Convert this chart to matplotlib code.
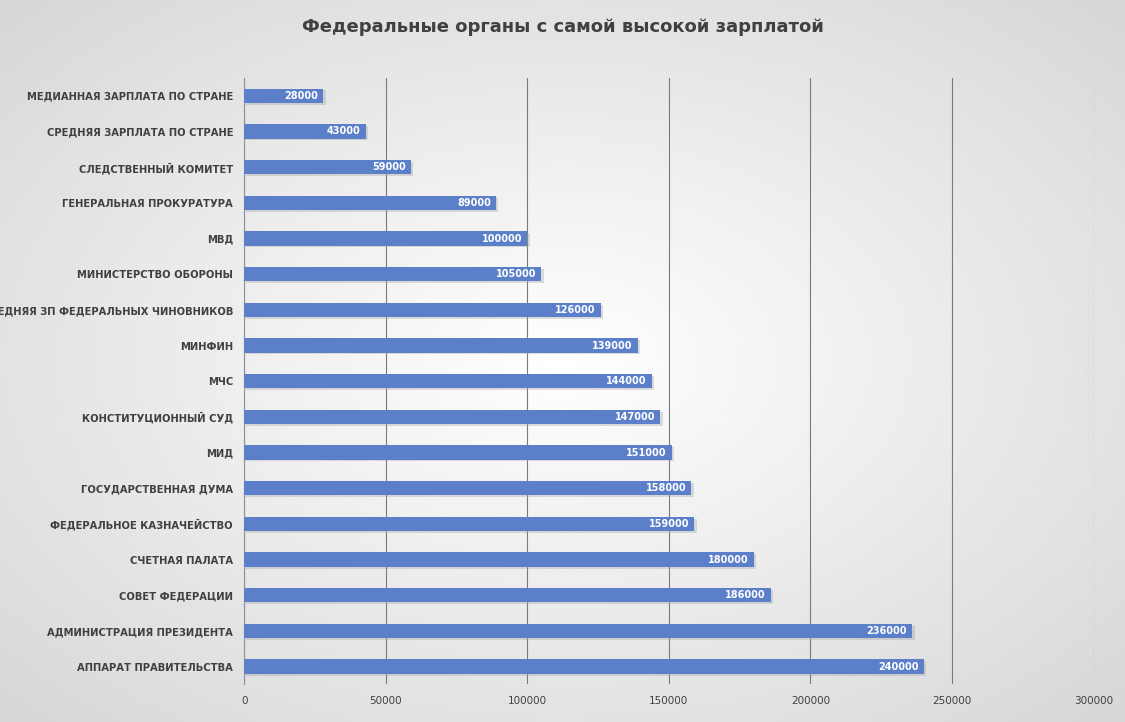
import numpy as np
import matplotlib.pyplot as plt

categories = ['МЕДИАННАЯ ЗАРПЛАТА ПО СТРАНЕ', 'СРЕДНЯЯ ЗАРПЛАТА ПО СТРАНЕ', 'СЛЕДСТВЕННЫЙ КОМИТЕТ',
              'ГЕНЕРАЛЬНАЯ ПРОКУРАТУРА', 'МВД', 'МИНИСТЕРСТВО ОБОРОНЫ',
              'СРЕДНЯЯ ЗП ФЕДЕРАЛЬНЫХ ЧИНОВНИКОВ', 'МИНФИН', 'МЧС', 'КОНСТИТУЦИОННЫЙ СУД',
              'МИД', 'ГОСУДАРСТВЕННАЯ ДУМА', 'ФЕДЕРАЛЬНОЕ КАЗНАЧЕЙСТВО', 'СЧЕТНАЯ ПАЛАТА',
              'СОВЕТ ФЕДЕРАЦИИ', 'АДМИНИСТРАЦИЯ ПРЕЗИДЕНТА', 'АППАРАТ ПРАВИТЕЛЬСТВА']
salaries = [28000, 43000, 59000, 89000, 100000, 105000, 126000, 139000, 144000, 147000,
            151000, 158000, 159000, 180000, 186000, 236000, 240000]
xticks = [0, 50000, 100000, 150000, 200000, 250000, 300000]

fig = plt.figure(figsize=(11.25, 7.22), dpi=100)

# radial grey background
bg = fig.add_axes([0, 0, 1, 1], zorder=-10)
yy, xx = np.mgrid[-1:1:300j, -1:1:450j]
r = np.sqrt(xx**2 + yy**2) / np.sqrt(2)
bg.imshow(1 - 0.16 * r, cmap='gray', vmin=0, vmax=1, aspect='auto', extent=[0, 1, 0, 1])
bg.axis('off')

ax = fig.add_axes([0.217, 0.052, 0.755, 0.84])
ax.patch.set_alpha(0)
y = np.arange(len(categories))
# shadow then bars
ax.barh(y + 0.05, salaries, height=0.4, left=800, color='#a0a0a0', alpha=0.35, zorder=2)
ax.barh(y, salaries, height=0.4, color='#5b7fc8', zorder=3)
for yi, v in zip(y, salaries):
    ax.text(v - 1800, yi, str(v), ha='right', va='center', color='white',
            fontsize=7, fontweight='bold', zorder=4)

ax.set_xlim(0, 300000)
ax.set_ylim(len(categories) - 0.5, -0.5)
ax.set_xticks(xticks)
ax.set_xticklabels([str(t) for t in xticks], fontsize=7.5, color='#404040')
ax.set_yticks(y)
ax.set_yticklabels(categories, fontsize=7.2, fontweight='bold', color='#404040')
ax.tick_params(length=0, pad=8)
ax.grid(axis='x', color='#7a7a7a', linewidth=0.8, zorder=0)
for s in ['top', 'right', 'bottom']:
    ax.spines[s].set_visible(False)
ax.spines['left'].set_color('#909090')

fig.text(0.5, 0.962, 'Федеральные органы с самой высокой зарплатой', ha='center', va='center',
         fontsize=13, fontweight='bold', color='#404040')

fig.savefig('out.png', dpi=100)
